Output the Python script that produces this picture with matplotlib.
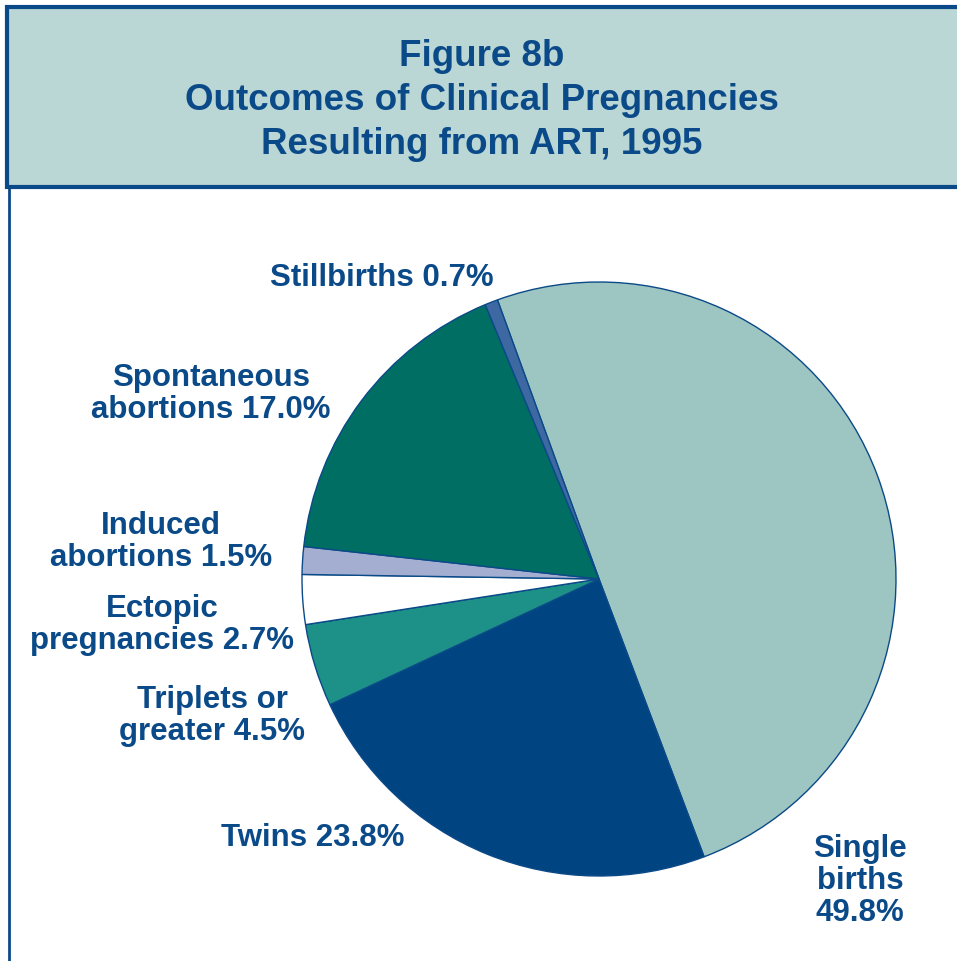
import matplotlib.pyplot as plt
from matplotlib.patches import Rectangle
from matplotlib.lines import Line2D

W, H = 957, 962

# data
outcomes = ['Single births', 'Twins', 'Triplets or greater', 'Ectopic pregnancies',
            'Induced abortions', 'Spontaneous abortions', 'Stillbirths']
percents = [49.8, 23.8, 4.5, 2.7, 1.5, 17.0, 0.7]
label_texts = ['Single\nbirths\n49.8%', 'Twins 23.8%', 'Triplets or\ngreater 4.5%',
               'Ectopic\npregnancies 2.7%', 'Induced\nabortions 1.5%',
               'Spontaneous\nabortions 17.0%', 'Stillbirths 0.7%']
title_lines = ['Figure 8b', 'Outcomes of Clinical Pregnancies', 'Resulting from ART, 1995']

colors = ['#9dc5c2', '#004481', '#1d9087', '#ffffff', '#a3aed0', '#006e63', '#3d68a2']
dark = '#0b4a88'

plt.rcParams['font.family'] = ['Liberation Sans', 'DejaVu Sans']

fig = plt.figure(figsize=(W / 100, H / 100), dpi=100)

def fx(x):
    return x / W

def fy(y):
    return 1 - y / H

# title panel
fig.patches.append(Rectangle((fx(7), fy(188)), 1.0, (188 - 8) / H, transform=fig.transFigure,
                             facecolor='#bad6d5', edgecolor=dark, linewidth=3, zorder=0))
fig.lines.append(Line2D([fx(9), fx(9)], [fy(188), 0], transform=fig.transFigure,
                        color=dark, linewidth=2))
for i, line in enumerate(title_lines):
    fig.text(fx(482), fy(57 + i * 44), line, ha='center', va='center',
             fontsize=26.5, fontweight='bold', color=dark)

# pie
cx, cy, r = 599, 580, 297
ax = fig.add_axes([fx(cx - r), fy(cy + r), 2 * r / W, 2 * r / H])
ax.pie(percents, colors=colors, startangle=110, counterclock=False,
       wedgeprops=dict(edgecolor=dark, linewidth=1.0))
ax.set_xlim(-1, 1)
ax.set_ylim(-1, 1)
ax.axis('off')

# labels
label_pos = [(860, 881), (313, 838), (212, 716), (162, 625), (161, 542), (211, 394), (382, 278)]
for txt, (x, y) in zip(label_texts, label_pos):
    fig.text(fx(x), fy(y), txt, ha='center', va='center', fontsize=22.5,
             fontweight='bold', color=dark, linespacing=1.08)

fig.savefig('out.png', dpi=100)
